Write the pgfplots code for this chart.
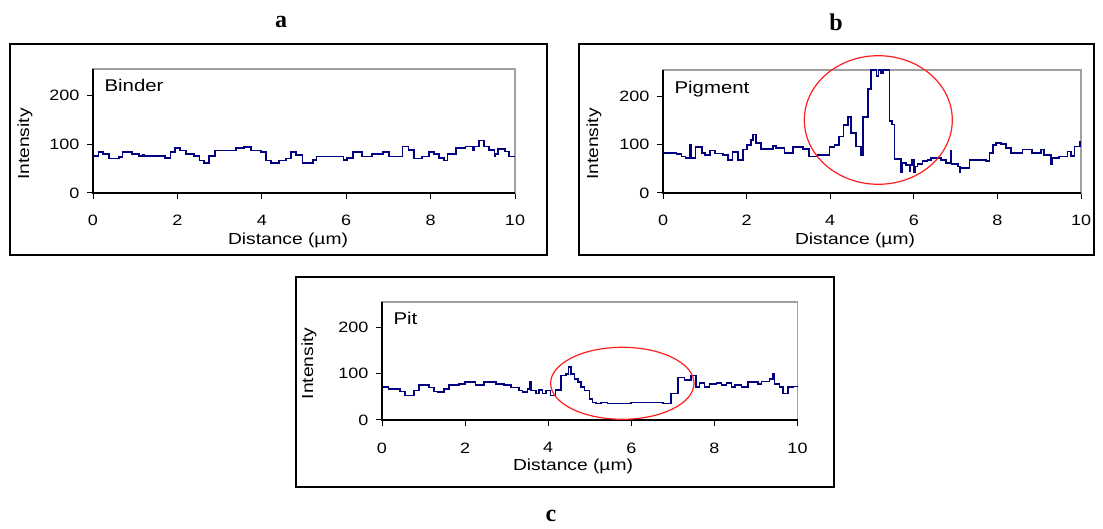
\documentclass[border=0pt]{standalone}
\usepackage{fontspec}
\setmainfont{Liberation Sans}[FakeStretch=1.2]
\newfontfamily\titlefont{Liberation Serif}
\usepackage{pgfplots}
\pgfplotsset{compat=1.18}
\definecolor{navy}{RGB}{0,0,128}
\definecolor{ring}{RGB}{255,30,30}

\pgfplotsset{
  panel/.style={
    scale only axis,
    xmin=0, xmax=10, ymin=0, ymax=255,
    xtick={0,2,...,10}, ytick={0,100,200},
    tick align=outside, xtick pos=left, ytick pos=left,
    major tick length=6pt,
    tick style={black, line width=1pt},
    axis line style={draw=gray!75, line width=1.2pt},
    tick label style={font=\fontsize{15}{17}\selectfont},
    xticklabel style={yshift=-13pt},
    yticklabel style={xshift=-4pt},
    /pgf/number format/assume math mode=true,
    clip=false,
    after end axis/.code={
      \draw[black, line width=1.3pt] (rel axis cs:0,1) -- (rel axis cs:0,0) -- (rel axis cs:1,0);
    },
  },
  trace/.style={const plot mark left, navy, line width=1.6pt, line join=miter, no markers},
}

\begin{document}
\begin{tikzpicture}[x=1pt, y=1pt]
\path[use as bounding box, fill=white] (0,0) rectangle (1103,529);

% frames
\draw[line width=1.3pt] (10,485) rectangle (547,274);
\draw[line width=1.3pt] (579,485) rectangle (1094,274);
\draw[line width=1.3pt] (296,252) rectangle (834,42);

% panel titles
\node[font=\titlefont\bfseries\fontsize{24}{26}\selectfont] at (281,507) {a};
\node[font=\titlefont\bfseries\fontsize{24}{26}\selectfont] at (836,507) {b};
\node[font=\titlefont\bfseries\fontsize{24}{26}\selectfont] at (551,13) {c};

% a: Binder
\begin{axis}[panel, at={(93pt,336pt)}, anchor=south west, width=422pt, height=124pt]
\addplot[trace] coordinates {
(0,76)(0.13,84)(0.24,80)(0.38,71)(0.62,74)(0.70,84)(0.93,80)(1.09,76)(1.19,78)(1.21,76)
(1.71,72)(1.84,84)(1.95,92)(2.06,87)(2.20,80)(2.40,76)(2.52,67)(2.63,62)(2.75,76)(2.89,87)
(3.39,92)(3.58,95)(3.74,87)(3.98,84)(4.10,67)(4.22,62)(4.41,67)(4.57,71)(4.69,84)(4.81,78)
(4.96,62)(5.21,68)(5.30,75)(5.94,68)(6.02,72)(6.16,84)(6.37,75)(6.61,80)(6.87,84)(7.01,75)
(7.33,96)(7.48,88)(7.60,71)(7.80,75)(7.96,84)(8.08,80)(8.20,72)(8.32,67)(8.40,80)(8.60,92)
(8.83,96)(9.00,88)(9.03,96)(9.15,108)(9.27,96)(9.39,88)(9.51,75)(9.54,80)(9.59,91)(9.76,85)
(9.86,75)(10,75)
};
\end{axis}
\node[anchor=west, font=\fontsize{17}{19}\selectfont] at (101,444) {Binder};
\node[rotate=90, font=\fontsize{16}{18}\selectfont] at (25,385) {Intensity};
\node[font=\fontsize{16}{18}\selectfont] at (288,289) {Distance (µm)};

% b: Pigment
\begin{axis}[panel, at={(663pt,336pt)}, anchor=south west, width=418pt, height=123pt]
\addplot[trace] coordinates {
(0,83)(0.32,81)(0.44,76)(0.54,72)(0.64,100)(0.68,72)(0.78,95)(0.94,83)(1.00,79)(1.12,88)
(1.24,82)(1.43,79)(1.55,69)(1.66,85)(1.79,69)(1.91,90)(2.01,100)(2.11,110)(2.15,121)(2.23,104)
(2.35,91)(2.63,98)(2.71,93)(2.91,83)(3.11,95)(3.35,91)(3.49,76)(3.59,76)(3.70,79)(3.98,95)
(4.10,100)(4.21,117)(4.32,141)(4.42,157)(4.50,124)(4.62,96)(4.74,79)(4.78,157)(4.90,215)(4.98,255)
(5.11,243)(5.16,255)(5.22,248)(5.27,255)(5.42,149)(5.48,142)(5.54,70)(5.70,44)(5.72,62)(5.82,58)
(5.90,46)(5.92,58)(5.96,69)(6.01,44)(6.03,55)(6.09,60)(6.21,66)(6.33,69)(6.41,72)(6.65,69)
(6.77,62)(6.88,87)(6.90,60)(7.05,55)(7.10,44)(7.12,52)(7.33,69)(7.73,66)(7.81,83)(7.89,100)
(7.97,104)(8.09,101)(8.21,93)(8.33,83)(8.60,90)(8.83,83)(9.04,90)(9.12,79)(9.28,60)(9.30,72)
(9.48,76)(9.68,86)(9.76,77)(9.84,96)(9.98,107)(10,107)
};
\end{axis}
\node[anchor=west, font=\fontsize{17}{19}\selectfont] at (671,440) {Pigment};
\node[rotate=90, font=\fontsize{16}{18}\selectfont] at (594,385) {Intensity};
\node[font=\fontsize{16}{18}\selectfont] at (855,289) {Distance (µm)};
\draw[ring, line width=1.2pt] (878.3,409) ellipse [x radius=74, y radius=64.3];

% c: Pit
\begin{axis}[panel, at={(382pt,109pt)}, anchor=south west, width=415.5pt, height=118pt]
\addplot[trace] coordinates {
(0,71)(0.16,67)(0.44,62)(0.56,53)(0.77,64)(0.89,75)(1.13,70)(1.25,62)(1.35,60)(1.49,67)
(1.61,75)(1.85,78)(2.00,82)(2.25,75)(2.45,82)(2.74,78)(2.94,75)(3.10,70)(3.30,64)(3.38,60)
(3.50,67)(3.56,82)(3.58,64)(3.70,57)(3.78,65)(3.86,57)(3.94,64)(4.06,53)(4.18,65)(4.31,96)
(4.43,100)(4.49,114)(4.55,100)(4.63,89)(4.71,82)(4.79,71)(4.87,64)(4.99,46)(5.07,38)(5.15,36)
(5.27,38)(5.43,36)(5.99,38)(6.76,36)(6.96,57)(7.12,92)(7.28,87)(7.44,96)(7.55,71)(7.64,80)
(7.76,71)(7.88,78)(8.05,80)(8.17,75)(8.29,80)(8.41,71)(8.49,75)(8.65,71)(8.81,82)(9.05,78)
(9.13,83)(9.33,89)(9.41,100)(9.45,78)(9.57,71)(9.65,57)(9.77,71)(9.89,72)(10,72)
};
\end{axis}
\node[anchor=west, font=\fontsize{17}{19}\selectfont] at (390,211) {Pit};
\node[rotate=90, font=\fontsize{16}{18}\selectfont] at (309,165.5) {Intensity};
\node[font=\fontsize{16}{18}\selectfont] at (573,63) {Distance (µm)};
\draw[ring, line width=1.2pt] (622.3,145.7) ellipse [x radius=71.7, y radius=36];
\end{tikzpicture}
\end{document}
